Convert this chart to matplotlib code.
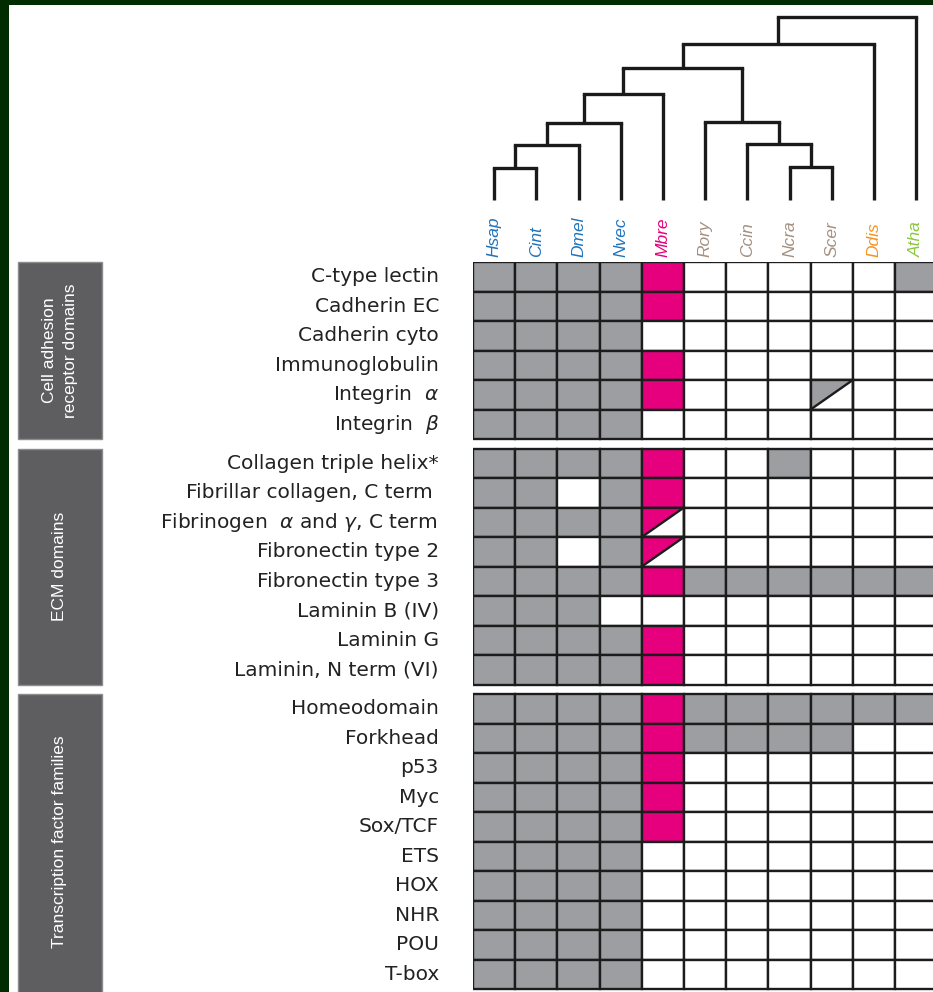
import matplotlib
matplotlib.use("Agg")
import matplotlib.pyplot as plt
from matplotlib import font_manager
from matplotlib.patches import Rectangle, Polygon

# species (columns) and their label colours
species = ["Hsap", "Cint", "Dmel", "Nvec", "Mbre", "Rory", "Ccin", "Ncra", "Scer", "Ddis", "Atha"]
species_colors = ["#1f74bd", "#1f74bd", "#1f74bd", "#1f74bd", "#e6007e",
                  "#a39080", "#a39080", "#a39080", "#a39080", "#f7941d", "#8dc63f"]
highlight = "Mbre"

# dendrogram merges: (left, right, height); leaves are column indices, nodes are "n<k>"
merges = [
    (0, 1, 32),          # n0
    ("n0", 2, 55),       # n1
    ("n1", 3, 77),       # n2
    ("n2", 4, 106),      # n3
    (7, 8, 33),          # n4
    (6, "n4", 56),       # n5
    (5, "n5", 78),       # n6
    ("n3", "n6", 132),   # n7
    ("n7", 9, 156),      # n8
    ("n8", 10, 183),     # n9
]

# domain groups; 1 = present, 0 = absent, 2 = partial
groups = ["Cell adhesion\nreceptor domains", "ECM domains", "Transcription factor families"]

adhesion_rows = ["C-type lectin", "Cadherin EC", "Cadherin cyto", "Immunoglobulin",
                 r"Integrin  $\alpha$", r"Integrin  $\beta$"]
adhesion_vals = [
    [1, 1, 1, 1, 1, 0, 0, 0, 0, 0, 1],
    [1, 1, 1, 1, 1, 0, 0, 0, 0, 0, 0],
    [1, 1, 1, 1, 0, 0, 0, 0, 0, 0, 0],
    [1, 1, 1, 1, 1, 0, 0, 0, 0, 0, 0],
    [1, 1, 1, 1, 1, 0, 0, 0, 2, 0, 0],
    [1, 1, 1, 1, 0, 0, 0, 0, 0, 0, 0],
]

ecm_rows = ["Collagen triple helix*", "Fibrillar collagen, C term ",
            r"Fibrinogen  $\alpha$ and $\gamma$, C term ", "Fibronectin type 2",
            "Fibronectin type 3", "Laminin B (IV)", "Laminin G", "Laminin, N term (VI)"]
ecm_vals = [
    [1, 1, 1, 1, 1, 0, 0, 1, 0, 0, 0],
    [1, 1, 0, 1, 1, 0, 0, 0, 0, 0, 0],
    [1, 1, 1, 1, 2, 0, 0, 0, 0, 0, 0],
    [1, 1, 0, 1, 2, 0, 0, 0, 0, 0, 0],
    [1, 1, 1, 1, 1, 1, 1, 1, 1, 1, 1],
    [1, 1, 1, 0, 0, 0, 0, 0, 0, 0, 0],
    [1, 1, 1, 1, 1, 0, 0, 0, 0, 0, 0],
    [1, 1, 1, 1, 1, 0, 0, 0, 0, 0, 0],
]

tf_rows = ["Homeodomain", "Forkhead", "p53", "Myc", "Sox/TCF", "ETS", "HOX", "NHR", "POU", "T-box"]
tf_vals = [
    [1, 1, 1, 1, 1, 1, 1, 1, 1, 1, 1],
    [1, 1, 1, 1, 1, 1, 1, 1, 1, 0, 0],
    [1, 1, 1, 1, 1, 0, 0, 0, 0, 0, 0],
    [1, 1, 1, 1, 1, 0, 0, 0, 0, 0, 0],
    [1, 1, 1, 1, 1, 0, 0, 0, 0, 0, 0],
    [1, 1, 1, 1, 0, 0, 0, 0, 0, 0, 0],
    [1, 1, 1, 1, 0, 0, 0, 0, 0, 0, 0],
    [1, 1, 1, 1, 0, 0, 0, 0, 0, 0, 0],
    [1, 1, 1, 1, 0, 0, 0, 0, 0, 0, 0],
    [1, 1, 1, 1, 0, 0, 0, 0, 0, 0, 0],
]

sections = [(adhesion_rows, adhesion_vals), (ecm_rows, ecm_vals), (tf_rows, tf_vals)]


def pick_font(*names):
    for n in names:
        try:
            font_manager.findfont(n, fallback_to_default=False)
            return n
        except ValueError:
            pass
    return "DejaVu Sans"


narrow = pick_font("Liberation Sans Narrow", "Liberation Sans")
helv = pick_font("Liberation Sans", "DejaVu Sans")
box_size = 14 if narrow == "Liberation Sans Narrow" else 12.5

GRAY = "#9d9ea1"
MAGENTA = "#e6007e"
BOX = "#5e5e60"
FRAME = "#002c00"
INK = "#1c1c1c"

W, H = 933, 992
fig = plt.figure(figsize=(W / 100, H / 100), dpi=100)
fig.patch.set_facecolor("white")

# layout in pixels
grid_left, grid_top = 473, 262
cell_w, cell_h, gap = 42.2, 29.5, 9.5
leaf_y = 200

ax = fig.add_axes([grid_left / W, 0, (W - grid_left) / W, (H - grid_top) / H])
ax.set_xlim(0, (W - grid_left) / cell_w)
ax.set_ylim((H - grid_top) / cell_h, 0)
ax.axis("off")

gap_r = gap / cell_h
box_x0 = (18 - grid_left) / cell_w
box_x1 = (102 - grid_left) / cell_w

y0 = 0.0
for g, (rows, vals) in enumerate(sections):
    n = len(rows)
    # group label box
    y_end = y0 + n if g < len(sections) - 1 else y0 + n + 2
    ax.add_patch(Rectangle((box_x0, y0), box_x1 - box_x0, y_end - y0, facecolor=BOX,
                           edgecolor="#8c8c8e", lw=1, clip_on=False))
    ax.text((box_x0 + box_x1) / 2, y0 + n / 2, groups[g], rotation=90, ha="center", va="center",
            color="white", fontsize=box_size, family=narrow, linespacing=1.5, clip_on=False)
    for i, (label, row) in enumerate(zip(rows, vals)):
        y = y0 + i
        ax.text((439 - grid_left) / cell_w, y + 0.5, label, ha="right", va="center",
                fontsize=14.5, color="#222222", family="DejaVu Sans", clip_on=False)
        for j, v in enumerate(row):
            fill = MAGENTA if species[j] == highlight else GRAY
            face = fill if v == 1 else "white"
            ax.add_patch(Rectangle((j, y), 1, 1, facecolor=face, edgecolor=INK, lw=1.7, zorder=2))
            if v == 2:
                ax.add_patch(Polygon([(j, y), (j + 1, y), (j, y + 1)], closed=True,
                                     facecolor=fill, edgecolor="none", zorder=3))
                ax.plot([j, j + 1], [y + 1, y], color=INK, lw=1.7, zorder=4)
                ax.add_patch(Rectangle((j, y), 1, 1, facecolor="none", edgecolor=INK,
                                       lw=1.7, zorder=4))
    y0 += n + gap_r

# species labels
for j, (sp, col) in enumerate(zip(species, species_colors)):
    ax.text(j + 0.5, (257 - grid_top) / cell_h, sp, rotation=90, ha="center", va="bottom",
            color=col, fontsize=12.5, style="italic", family=helv, clip_on=False)

# dendrogram
dax = fig.add_axes([grid_left / W, (H - leaf_y) / H, (W - grid_left) / W, leaf_y / H])
dax.set_xlim(ax.get_xlim())
dax.set_ylim(0, leaf_y)
dax.axis("off")

pos = {}
height = {}
for j in range(len(species)):
    pos[j] = j + 0.5
    height[j] = 0
for k, (a, b, h) in enumerate(merges):
    key = "n%d" % k
    for c in (a, b):
        dax.plot([pos[c], pos[c]], [height[c], h], color="#1a1a1a", lw=2.4,
                 solid_capstyle="butt", clip_on=False)
    dax.plot([pos[a], pos[b]], [h, h], color="#1a1a1a", lw=2.4, solid_capstyle="projecting",
             clip_on=False)
    pos[key] = (pos[a] + pos[b]) / 2
    height[key] = h

# dark green frame on the top and left
fig.patches.append(Rectangle((0, 1 - 5 / H), 1, 5 / H, transform=fig.transFigure,
                             facecolor=FRAME, edgecolor="none", zorder=10))
fig.patches.append(Rectangle((0, 0), 9 / W, 1, transform=fig.transFigure,
                             facecolor=FRAME, edgecolor="none", zorder=10))

fig.savefig("out.png", dpi=100)
